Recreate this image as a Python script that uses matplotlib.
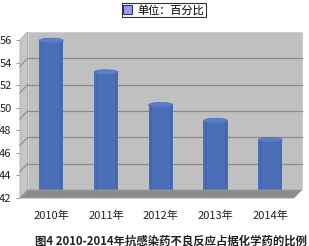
import matplotlib
matplotlib.use("Agg")
import matplotlib.pyplot as plt
import numpy as np
from matplotlib.patches import Polygon, Ellipse, Rectangle, Patch
from matplotlib.transforms import ScaledTranslation

plt.rcParams['font.family'] = ['Noto Sans CJK SC', 'DejaVu Sans']

# ---- data ----
categories = ['2010年', '2011年', '2012年', '2013年', '2014年']
values = [55.6, 52.8, 49.9, 48.5, 46.8]
y_ticks = [42, 44, 46, 48, 50, 52, 54, 56]
legend_label = '单位：百分比'
caption = '图4 2010-2014年抗感染药不良反应占据化学药的比例'

DPI = 100
W, H = 309, 246
fig = plt.figure(figsize=(W / DPI, H / DPI), dpi=DPI)
fig.patch.set_facecolor('white')

# front plane mapping (pixels from top-left)
x_left_px, x_right_px = 20, 294
y42_px, y56_px = 198, 40
ax = fig.add_axes([x_left_px / W, (H - y42_px) / H,
                   (x_right_px - x_left_px) / W, (y42_px - y56_px) / H])
ymin, ymax = 42, 56
ax.set_xlim(-0.5, len(categories) - 0.5)
ax.set_ylim(ymin, ymax)
ax.patch.set_alpha(0)

# depth offsets (pixels)
depth_dx, depth_dy = 7.5, 8.0
back = ax.transData + ScaledTranslation(depth_dx / DPI, depth_dy / DPI, fig.dpi_scale_trans)
mid = ax.transData + ScaledTranslation(depth_dx / 2 / DPI, depth_dy / 2 / DPI, fig.dpi_scale_trans)
front = ax.transData

x0, x1 = -0.5, len(categories) - 0.5

# back wall
ax.add_patch(Rectangle((x0, ymin), x1 - x0, ymax - ymin, transform=back,
                       facecolor='#c0c0c0', edgecolor='#d0d0d0', lw=0.8,
                       clip_on=False, zorder=1))
# left side wall (front edge -> back edge)
def pt(tr, x, y):
    return tr.transform((x, y))
inv = fig.transFigure.inverted()
def poly(points, **kw):
    pts = [inv.transform(p) for p in points]
    fig.patches.append(Polygon(pts, closed=True, transform=fig.transFigure, **kw))

poly([pt(front, x0, ymin), pt(front, x0, ymax), pt(back, x0, ymax), pt(back, x0, ymin)],
     facecolor='#c6c6c6', edgecolor='#a8a8a8', lw=0.6, zorder=1)

# gridlines on back wall and side wall
grid_vals = np.linspace(ymin, ymax, 7)[1:-1]
for g in grid_vals:
    ax.plot([x0, x1], [g, g], transform=back, color='#8a8a8a', lw=0.9,
            clip_on=False, zorder=2)
for v in y_ticks:
    a = inv.transform(pt(front, x0, v))
    b = inv.transform(pt(back, x0, v))
for g in grid_vals:
    a = inv.transform(pt(front, x0, g))
    b = inv.transform(pt(back, x0, g))
    fig.lines.append(plt.Line2D([a[0], b[0]], [a[1], b[1]], transform=fig.transFigure,
                                color='#8a8a8a', lw=0.8, zorder=2))

# floor
poly([pt(front, x0, ymin), pt(front, x1, ymin), pt(back, x1, ymin), pt(back, x0, ymin)],
     facecolor='#8c8c8c', edgecolor='#9a9a9a', lw=0.6, zorder=3)

# cylinders
bar_w = 0.44
ell_h = 0.42
body_color = '#4a6fb8'
top_color = '#5a7fc6'
for i, v in enumerate(values):
    ax.add_patch(Ellipse((i, ymin), bar_w, ell_h, transform=mid, facecolor=body_color,
                         edgecolor='none', clip_on=False, zorder=4))
    ax.add_patch(Rectangle((i - bar_w / 2, ymin), bar_w, v - ymin, transform=mid,
                           facecolor=body_color, edgecolor='none', clip_on=False, zorder=4))
    # subtle vertical shading stripes
    for k, (off, c) in enumerate([(-0.19, '#3f62a8'), (0.17, '#3f62a8')]):
        ax.add_patch(Rectangle((i + off, ymin), 0.03, v - ymin, transform=mid,
                               facecolor=c, edgecolor='none', clip_on=False, zorder=4, alpha=0.6))
    ax.add_patch(Ellipse((i, v), bar_w, ell_h, transform=mid, facecolor=top_color,
                         edgecolor='#4a6fb8', lw=0.5, clip_on=False, zorder=5))

# axes styling
for s in ax.spines.values():
    s.set_visible(False)
ax.set_yticks(y_ticks)
ax.set_yticklabels([str(t) for t in y_ticks], fontsize=8, color='#222222')
ax.tick_params(axis='y', length=3, width=0.6, color='#888888', pad=3)
ax.set_xticks(range(len(categories)))
ax.set_xticklabels(categories, fontsize=8, color='#222222')
ax.tick_params(axis='x', length=0, pad=9)
for lbl in ax.get_xticklabels():
    lbl.set_transform(lbl.get_transform() + ScaledTranslation(depth_dx / 2 / DPI, 0, fig.dpi_scale_trans))

# legend
handle = Patch(facecolor='#9999ff', edgecolor='#333366', lw=0.8)
leg = fig.legend([handle], [legend_label], loc='center', bbox_to_anchor=(164 / W, 1 - 10 / H),
                 fontsize=8, frameon=True, fancybox=False, edgecolor='#000000',
                 handlelength=0.8, handleheight=0.8, handletextpad=0.5,
                 borderpad=0.15, borderaxespad=0)
leg.get_frame().set_linewidth(0.8)

# caption
fig.text(171 / W, 1 - 241 / H, caption, ha='center', va='center', fontsize=8.2,
         fontweight='bold', color='#222222')

fig.savefig('out.png', dpi=DPI)
